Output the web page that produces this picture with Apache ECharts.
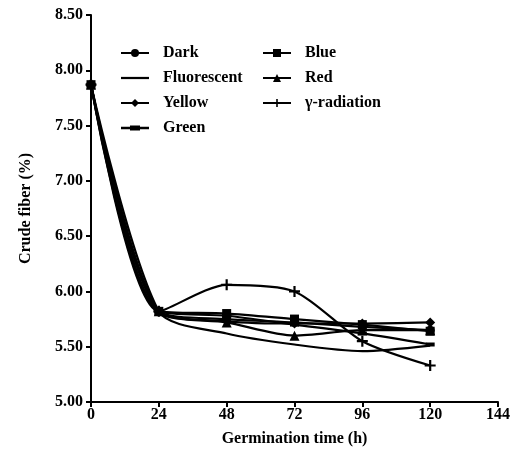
<!DOCTYPE html>
<html>
<head>
<meta charset="utf-8">
<script src="https://cdn.jsdelivr.net/npm/echarts@6/dist/echarts.min.js"></script>
<style>
html, body { margin: 0; padding: 0; background: #fff; }
#echart { width: 514px; height: 458px; }
</style>
</head>
<body>
<div id="echart"></div>
<script>
var hours = [0, 24, 48, 72, 96, 120];
var dark = [7.87, 5.82, 5.75, 5.72, 5.68, 5.65];
var fluorescent = [7.87, 5.82, 5.62, 5.52, 5.46, 5.51];
var yellow = [7.87, 5.82, 5.73, 5.71, 5.71, 5.72];
var green = [7.87, 5.82, 5.78, 5.70, 5.62, 5.52];
var blue = [7.87, 5.82, 5.80, 5.75, 5.70, 5.64];
var red = [7.87, 5.82, 5.72, 5.60, 5.65, 5.65];
var gamma = [7.87, 5.82, 6.06, 6.00, 5.55, 5.33];

var plus = 'path://M4,0h2v4h4v2h-4v4h-2v-4h-4v-2h4z';
var font = '"Liberation Serif", "DejaVu Serif", serif';

function pairs(vals){
	return hours.map(function(h, i){ return [h, vals[i]]; });
}

function line(name, vals, symbol, size){
	return {
		name: name,
		type: 'line',
		smooth: 0.27,
		data: pairs(vals),
		symbol: symbol,
		symbolSize: size,
		showSymbol: symbol !== 'none',
		lineStyle: { color: '#000', width: 2.2 },
		itemStyle: { color: '#000' }
	};
}

var legendText = { fontFamily: font, fontSize: 16, fontWeight: 'bold', color: '#000', padding: [0, 0, 0, 9] };

var echart = echarts.init(document.getElementById('echart'));
echart.setOption({
	animation: false,
	textStyle: { fontFamily: font },
	grid: { left: 91, right: 16, top: 15, bottom: 56, containLabel: false },
	legend: [{
		orient: 'vertical',
		left: 115, top: 40,
		itemWidth: 28, itemHeight: 10, itemGap: 9,
		textStyle: legendText,
		data: ['Dark',
			{ name: 'Fluorescent', icon: 'path://M0,4h30v2.4h-30z' },
			'Yellow',
			{ name: 'Green', icon: 'path://M0,4h28v2.4h-28zM9,2.6h10v5.2h-10z' }]
	}, {
		orient: 'vertical',
		left: 257, top: 40,
		itemWidth: 28, itemHeight: 10, itemGap: 9,
		textStyle: legendText,
		data: ['Blue', 'Red', 'γ-radiation']
	}],
	xAxis: {
		type: 'value',
		min: 0, max: 144, interval: 24,
		name: 'Germination time (h)',
		nameLocation: 'middle',
		nameGap: 29,
		nameTextStyle: { fontFamily: font, fontSize: 16, fontWeight: 'bold', color: '#000' },
		axisLine: { lineStyle: { color: '#000', width: 2 } },
		axisTick: { inside: false, length: 5, lineStyle: { color: '#000', width: 2 } },
		axisLabel: { fontFamily: font, fontSize: 16, fontWeight: 'bold', color: '#000', margin: 5 },
		splitLine: { show: false }
	},
	yAxis: {
		type: 'value',
		min: 5, max: 8.5, interval: 0.5,
		name: 'Crude fiber (%)',
		nameLocation: 'middle',
		nameGap: 57,
		nameTextStyle: { fontFamily: font, fontSize: 16, fontWeight: 'bold', color: '#000' },
		axisLine: { show: true, lineStyle: { color: '#000', width: 2 } },
		axisTick: { show: true, length: 5, lineStyle: { color: '#000', width: 2 } },
		axisLabel: { fontFamily: font, fontSize: 16, fontWeight: 'bold', color: '#000', margin: 8,
			formatter: function(v){ return v.toFixed(2); } },
		splitLine: { show: false }
	},
	series: [
		line('Dark', dark, 'circle', 9),
		line('Fluorescent', fluorescent, 'none', 0),
		line('Yellow', yellow, 'diamond', 10),
		line('Green', green, 'rect', [9, 4]),
		line('Blue', blue, 'rect', 9),
		line('Red', red, 'triangle', 10),
		line('γ-radiation', gamma, plus, 11)
	]
});
</script>
</body>
</html>
